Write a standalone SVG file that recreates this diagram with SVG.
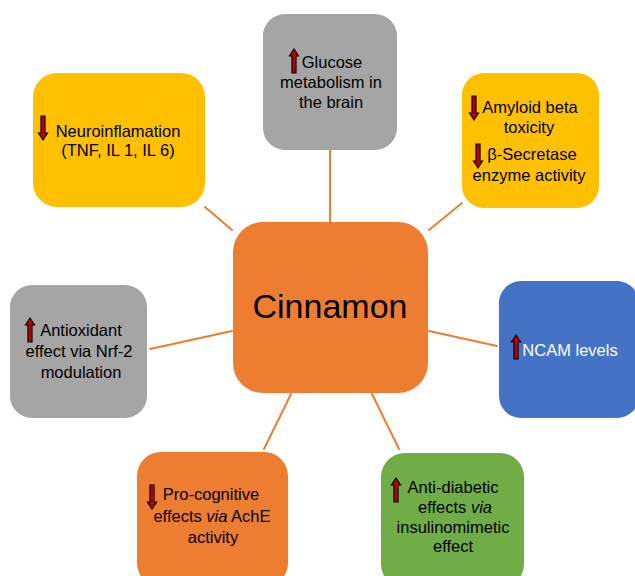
<svg xmlns="http://www.w3.org/2000/svg" xmlns:xlink="http://www.w3.org/1999/xlink" width="635" height="576" viewBox="0 0 635 576">
<style>
.t{font-family:"Liberation Sans",Arial,sans-serif;font-size:16.5px;fill:#000;text-anchor:middle}
.w{fill:#fff}
.big{font-size:34px}
.conn line{stroke:#ED7D31;stroke-width:2;stroke-linecap:round}
.arr{fill:#C00000;stroke:#000;stroke-width:1.2;stroke-linejoin:miter}
</style>
<defs>
<path id="up" class="arr" d="M0,-12 L4.5,-5 L2,-5 L2,12 L-2,12 L-2,-5 L-4.5,-5 Z"/>
<path id="dn" class="arr" d="M0,12 L4.5,5 L2,5 L2,-12 L-2,-12 L-2,5 L-4.5,5 Z"/>
</defs>
<rect width="635" height="576" fill="#fff"/>
<g id="connectors" class="conn">
<line x1="330" y1="150" x2="330" y2="222"/>
<line x1="205" y1="207" x2="232" y2="230"/>
<line x1="429" y1="230" x2="462" y2="203"/>
<line x1="429" y1="331" x2="497" y2="346"/>
<line x1="150" y1="349" x2="232" y2="331"/>
<line x1="291" y1="394" x2="264" y2="449"/>
<line x1="372" y1="394" x2="399" y2="449"/>
</g>
<g id="cinnamon">
<rect x="233" y="222" width="195" height="171" rx="30" fill="#ED7D31"/>
<text class="t big" x="330" y="318">Cinnamon</text>
</g>
<g id="glucose">
<rect x="263" y="14" width="134" height="136" rx="22" fill="#A5A5A5"/>
<use href="#up" x="294" y="61"/>
<text class="t" x="332" y="68">Glucose</text>
<text class="t" x="331" y="88">metabolism in</text>
<text class="t" x="331" y="108">the brain</text>
</g>
<g id="neuroinflammation">
<rect x="33" y="73" width="172" height="134" rx="24" fill="#FFC000"/>
<use href="#dn" x="43" y="128"/>
<text class="t" x="118" y="137">Neuroinflamation</text>
<text class="t" x="118" y="156">(TNF, IL 1, IL 6)</text>
</g>
<g id="amyloid">
<rect x="462" y="73" width="137" height="135" rx="22" fill="#FFC000"/>
<use href="#dn" x="474" y="108"/>
<text class="t" x="530" y="113">Amyloid beta</text>
<text class="t" x="529" y="133">toxicity</text>
<use href="#dn" x="478" y="156"/>
<text class="t" x="532" y="160">β-Secretase</text>
<text class="t" x="529" y="181">enzyme activity</text>
</g>
<g id="ncam">
<rect x="499" y="281" width="140" height="137" rx="22" fill="#4472C4"/>
<use href="#up" x="516" y="347"/>
<text class="t w" x="570" y="356">NCAM levels</text>
</g>
<g id="antioxidant">
<rect x="10" y="285" width="137" height="133" rx="22" fill="#A5A5A5"/>
<use href="#up" x="30" y="330"/>
<text class="t" x="81" y="336">Antioxidant</text>
<text class="t" x="79" y="357">effect via Nrf-2</text>
<text class="t" x="81" y="378">modulation</text>
</g>
<g id="procognitive">
<rect x="137" y="452" width="151" height="135" rx="24" fill="#ED7D31"/>
<use href="#dn" x="152" y="497"/>
<text class="t" x="211" y="500">Pro-cognitive</text>
<text class="t" x="212" y="522">effects <tspan font-style="italic">via</tspan> AchE</text>
<text class="t" x="213" y="543">activity</text>
</g>
<g id="antidiabetic">
<rect x="381" y="453" width="143" height="135" rx="24" fill="#70AD47"/>
<use href="#up" x="396" y="490"/>
<text class="t" x="453" y="493">Anti-diabetic</text>
<text class="t" x="455" y="513">effects <tspan font-style="italic">via</tspan></text>
<text class="t" x="453" y="533">insulinomimetic</text>
<text class="t" x="453" y="552">effect</text>
</g>
</svg>
